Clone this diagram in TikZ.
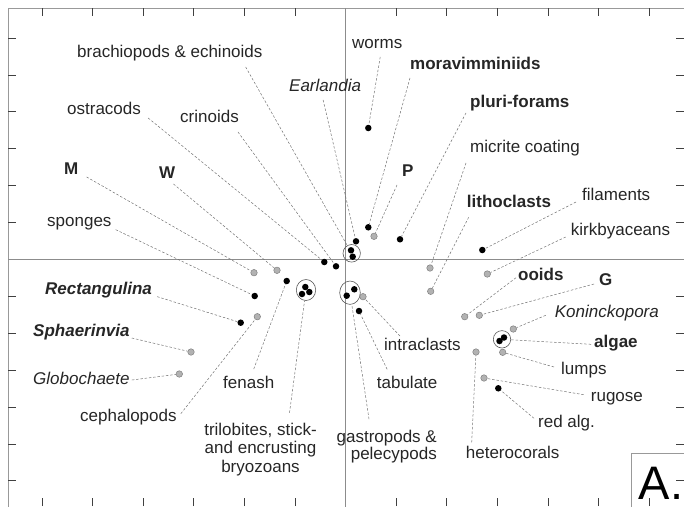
\documentclass[tikz,border=0pt]{standalone}
\usepackage{fontspec}
\setmainfont{Liberation Sans}
\usetikzlibrary{shapes.geometric,positioning,calc}

\tikzset{
  lbl/.style={inner sep=2pt, text height=12pt, text depth=3.5pt, text=black!85, font=\fontsize{17}{20}\selectfont},
  blk/.style={circle, fill=black, inner sep=0pt, minimum size=6.5pt},
  gry/.style={circle, fill=black!30, draw=black!50, line width=0.5pt, inner sep=0pt, minimum size=6.5pt},
  ring/.style={ellipse, draw=black!65, line width=0.6pt, inner sep=0pt},
  lead/.style={draw=black!55, dash pattern=on 2.5pt off 1.8pt, line width=0.5pt}
}

\begin{document}
\begin{tikzpicture}[x=1pt, y=-1pt]
        \useasboundingbox (0,0) rectangle (684,506);

        % Frame and axes
        \draw[black!40, line width=0.8pt] (8,510) -- (8,8) -- (690,8);
        \draw[black!45, line width=1pt] (8,259.4) -- (690,259.4);
        \draw[black!45, line width=1pt] (345.6,8) -- (345.6,510);
        \foreach \tx in {42,92.6,143.2,193.8,244.4,295,396.2,446.8,497.4,548,598.6,649.2}
            \draw[black!75, line width=0.8pt] (\tx,8) -- (\tx,16) (\tx,506) -- (\tx,498);
        \foreach \ty in {38,74.9,111.8,148.7,185.6,222.5,296.3,333.2,370.1,407,443.9,480.8}
            \draw[black!75, line width=0.8pt] (8,\ty) -- (16,\ty) (684,\ty) -- (676,\ty);

        % Panel tag
        \filldraw[fill=white, draw=black!40, line width=0.8pt] (631,515) |- (695,453);
        \node (tag) [anchor=base west, inner sep=0pt, font=\fontsize{47}{48}\selectfont] at (638.5,499) {A.};

        % Rings round the clusters
        \node (r1) [ring, minimum width=17.4pt, minimum height=17.6pt] at (351.7,253.3) {};
        \node (r2) [ring, minimum width=19.4pt, minimum height=21pt] at (306,290) {};
        \node (r3) [ring, minimum width=20.6pt, minimum height=23.4pt] at (350,292.7) {};
        \node (r4) [ring, minimum width=17.4pt, minimum height=17.4pt] at (502,339.3) {};

        % Black points
        \foreach \n/\p in {dworms/{368.3,128}, dmora/{368.3,227.3}, dplur/{400,239.3}, dearl/{356,241.3},
            dostr/{324.3,262}, dcrin/{336,266.3}, dfen/{286.7,281}, dtab/{359,311}, dspon/{254.7,296},
            drect/{240.7,322.7}, dfil/{482.3,250}, dred/{498.3,388.3},
            e1a/{351,250.3}, e1b/{352.7,256.7}, e2a/{305.3,287}, e2b/{302,294}, e2c/{309.3,292},
            e3a/{354.3,289.3}, e3b/{346.7,295.7}, e4a/{499.5,341}, e4b/{504,337.5}}
            \node (\n) [blk] at (\p) {};

        % Grey points
        \foreach \n/\p in {gP/{374,236.3}, gM/{254,272.7}, gW/{277,270.3}, gceph/{257.3,316.7},
            gsph/{191,352}, gglob/{179.3,374}, gintra/{363,296.7}, gmicr/{430,268}, glith/{430.7,291.3},
            gkirk/{487.3,274}, gooid/{464.7,316.7}, gG/{479.3,315.3}, gkon/{513.3,329}, glump/{502.7,352.3},
            ghet/{476,352}, grug/{484,378}}
            \node (\n) [gry] at (\p) {};

        % Labels, upper half
        \node (lbrach) [lbl, anchor=west] at (75,53) {brachiopods \& echinoids};
        \node (lostr) [lbl, anchor=west] at (65,110) {ostracods};
        \node (lcrin) [lbl, anchor=west] at (178,118) {crinoids};
        \node (learl) [lbl, anchor=west] at (287,87) {\itshape Earlandia};
        \node (lworms) [lbl, anchor=west] at (350,44) {worms};
        \node (lmora) [lbl, anchor=west] at (408,65) {\bfseries moravimminiids};
        \node (lplur) [lbl, anchor=west] at (468,103) {\bfseries pluri-forams};
        \node (lmicr) [lbl, anchor=west] at (468,148) {micrite coating};
        \node (lP) [lbl, anchor=west] at (400,172) {\bfseries P};
        \node (lM) [lbl, anchor=west] at (62,170) {\bfseries M};
        \node (lW) [lbl, anchor=west] at (157,174) {\bfseries W};
        \node (lspon) [lbl, anchor=west] at (45,222.7) {sponges};
        \node (llith) [lbl, anchor=west] at (464.7,203.3) {\bfseries lithoclasts};
        \node (lfil) [lbl, anchor=west] at (580,196) {filaments};
        \node (lkirk) [lbl, anchor=west] at (568.7,231) {kirkbyaceans};

        % Labels, lower half
        \node (lrect) [lbl, anchor=west] at (43,290.7) {\bfseries\itshape Rectangulina};
        \node (lsph) [lbl, anchor=west] at (31,332) {\bfseries\itshape Sphaerinvia};
        \node (lglob) [lbl, anchor=west] at (31,380) {\itshape Globochaete};
        \node (lceph) [lbl, anchor=west] at (78,417.7) {cephalopods};
        \node (lfen) [lbl, anchor=west] at (221,384) {fenash};
        \node (ltril) [inner sep=0pt, align=center, text=black!85, font=\fontsize{17}{18.5}\selectfont] at (260.5,449.4) {trilobites, stick-\\and encrusting\\bryozoans};
        \node (lgast) [inner sep=0pt, align=right, anchor=east, text=black!85, font=\fontsize{17}{17.6}\selectfont] at (437,446.6) {gastropods \&\\pelecypods};
        \node (ltab) [lbl, anchor=west] at (374.7,384.3) {tabulate};
        \node (lintra) [lbl, anchor=west] at (382,346) {intraclasts};
        \node (looid) [lbl, anchor=west] at (516,276.7) {\bfseries ooids};
        \node (lG) [lbl, anchor=west] at (597,281) {\bfseries G};
        \node (lkon) [lbl, anchor=west] at (552.7,313.3) {\itshape Koninckopora};
        \node (lalg) [lbl, anchor=west] at (592,343.3) {\bfseries algae};
        \node (llump) [lbl, anchor=west] at (559,370) {lumps};
        \node (lrug) [lbl, anchor=west] at (588.7,397.7) {rugose};
        \node (lred) [lbl, anchor=west] at (536,423.3) {red alg.};
        \node (lhet) [lbl, anchor=west] at (463.7,454.3) {heterocorals};

        % Leaders
        \draw[lead] ([xshift=-19pt,yshift=-4pt]lbrach.south east) -- (r1);
        \draw[lead] ([xshift=5pt,yshift=2pt]lostr.south east) -- (dostr);
        \draw[lead] ([xshift=-3pt,yshift=-4pt]lcrin.south east) -- (dcrin);
        \draw[lead] ([xshift=-2pt,yshift=-3pt]learl.south) -- (dearl);
        \draw[lead] ([xshift=3pt,yshift=-3pt]lworms.south) -- (dworms);
        \draw[lead] ([xshift=2pt,yshift=-3pt]lmora.south west) -- (dmora);
        \draw[lead] ([xshift=-2pt]lplur.south west) -- (dplur);
        \draw[lead] ([xshift=-2pt,yshift=-5pt]lmicr.south west) -- (gmicr);
        \draw[lead] ([xshift=-3pt,yshift=-3pt]lP.south west) -- (gP);
        \draw[lead] ([xshift=6pt,yshift=3pt]lM.south east) -- (gM);
        \draw[lead] ([xshift=-4pt]lW.south east) -- (gW);
        \draw[lead] ([xshift=2pt,yshift=3pt]lspon.south east) -- (dspon);
        \draw[lead] ([xshift=4pt,yshift=-4pt]llith.south west) -- (glith);
        \draw[lead] ([xshift=-4pt,yshift=-6pt]lfil.west) -- (dfil);
        \draw[lead] ([xshift=-3pt,yshift=-6pt]lkirk.west) -- (gkirk);
        \draw[lead] ([xshift=3pt,yshift=4pt]lrect.south east) -- (drect);
        \draw[lead] ([yshift=-6pt]lsph.east) -- (gsph);
        \draw[lead] (lglob.east) -- (gglob);
        \draw[lead] ([xshift=2pt,yshift=4pt]lceph.east) -- (gceph);
        \draw[lead] ([xshift=5pt,yshift=5pt]lfen.north) -- (dfen);
        \draw[lead] ([xshift=29pt,yshift=10pt]ltril.north) -- (r2);
        \draw[lead] ([xshift=-17.7pt,yshift=10.5pt]lgast.north) -- (r3);
        \draw[lead] ([xshift=-20pt,yshift=5pt]ltab.north) -- (dtab);
        \draw[lead] ([xshift=18pt]lintra.north west) -- (gintra);
        \draw[lead] ([yshift=-1pt]looid.west) -- (gooid);
        \draw[lead] ([xshift=-3pt,yshift=-3pt]lG.west) -- (gG);
        \draw[lead] ([xshift=-7pt,yshift=-2pt]lkon.west) -- (gkon);
        \draw[lead] ([xshift=-1pt,yshift=-1pt]lalg.west) -- (r4);
        \draw[lead] ([xshift=-5pt,yshift=3pt]llump.west) -- (glump);
        \draw[lead] ([xshift=-5pt,yshift=3pt]lrug.west) -- (grug);
        \draw[lead] ([xshift=-2pt,yshift=5pt]lred.west) -- (dred);
        \draw[lead] ([xshift=8pt,yshift=2pt]lhet.north west) -- (ghet);
    \end{tikzpicture}
\end{document}
